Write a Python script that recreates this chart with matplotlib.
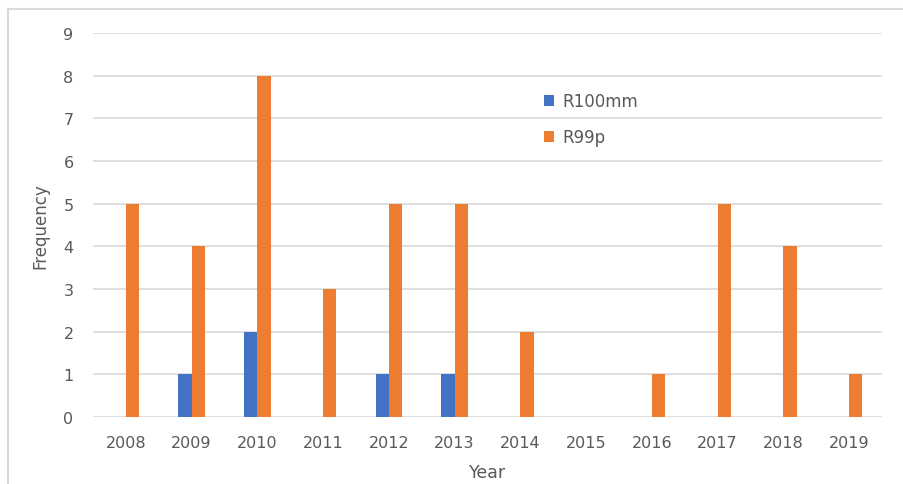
import numpy as np
import matplotlib
matplotlib.use("Agg")
import matplotlib.pyplot as plt
from matplotlib.lines import Line2D

years = ["2008", "2009", "2010", "2011", "2012", "2013", "2014", "2015", "2016", "2017", "2018", "2019"]
r100mm = [0, 1, 2, 0, 1, 1, 0, 0, 0, 0, 0, 0]
r99p = [5, 4, 8, 3, 5, 5, 2, 0, 1, 5, 4, 1]

blue = "#4472c4"
orange = "#ed7d31"
grid_c = "#d9d9d9"
text_c = "#595959"

plt.rcParams["font.family"] = ["DejaVu Sans"]

fig = plt.figure(figsize=(9.04, 4.85), dpi=100)
# chart frame (only top and left edges are visible in the crop)
top = 1 - 10 / 485
left = 8 / 904
fig.lines.append(Line2D([left, 1], [top, top], transform=fig.transFigure, color=grid_c, linewidth=1.5))
fig.lines.append(Line2D([left, left], [0, top], transform=fig.transFigure, color=grid_c, linewidth=1.5))

ax = fig.add_axes([93 / 904, 1 - 418 / 485, 789 / 904, 384 / 485])
x = np.arange(len(years))
w = 0.2
ax.bar(x - w / 2, r100mm, w, color=blue, label="R100mm", zorder=3)
ax.bar(x + w / 2, r99p, w, color=orange, label="R99p", zorder=3)

ax.set_xlim(-0.5, len(years) - 0.5)
ax.set_ylim(0, 9)
ax.set_yticks(range(0, 10))
ax.set_xticks(x)
ax.set_xticklabels(years)
ax.grid(axis="y", color=grid_c, linewidth=1.2, zorder=0)
for s in ax.spines.values():
    s.set_visible(False)
ax.tick_params(length=0, labelsize=11.5, colors=text_c, pad=14)
ax.tick_params(axis="x", pad=13)

ax.set_xlabel("Year", fontsize=12.5, color=text_c, labelpad=9)
ax.set_ylabel("Frequency", fontsize=12, color=text_c, labelpad=10)

ax.legend(loc="upper left", bbox_to_anchor=(0.553, 0.885), frameon=False, fontsize=12,
          labelcolor=text_c, handlelength=0.6, handleheight=0.6, handletextpad=0.5,
          labelspacing=1.1)

fig.savefig("out.png", dpi=100)
